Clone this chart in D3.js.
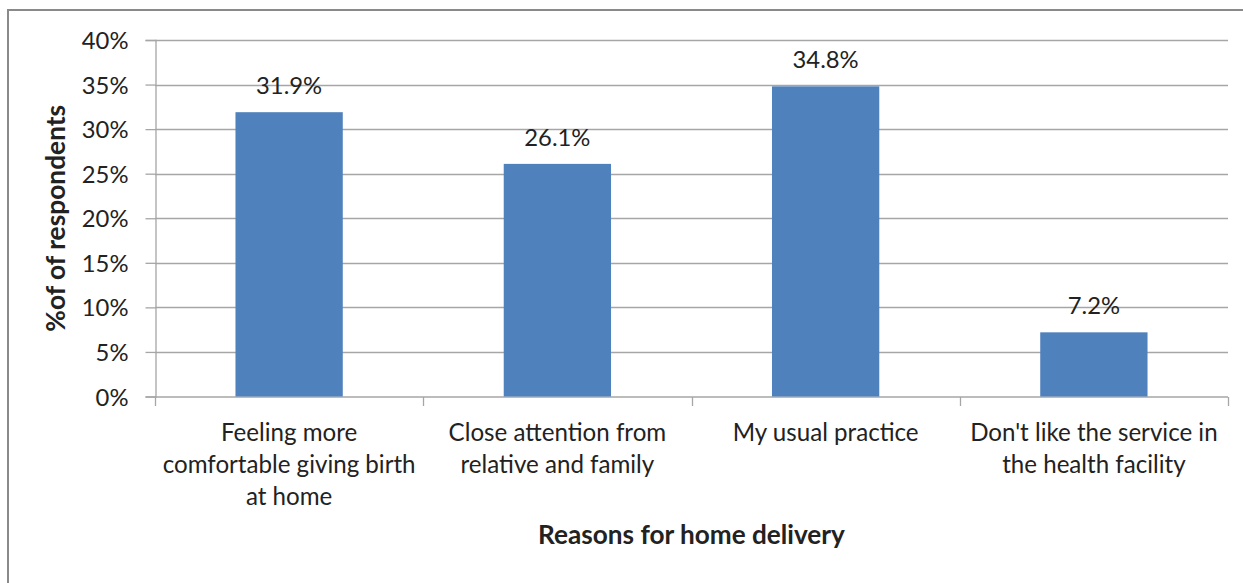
<!DOCTYPE html>
<html><head><meta charset="utf-8">
<script src="https://cdn.jsdelivr.net/npm/d3@7"></script>
<style>
html,body{margin:0;padding:0;background:#fff;}
svg{display:block;}
text{font-family:Lato,"Open Sans",sans-serif;fill:#222;}
</style></head>
<body>
<svg id="chart" width="1243" height="583"></svg>
<script>
const categories = [
  "Feeling more comfortable giving birth at home",
  "Close attention from relative and family",
  "My usual practice",
  "Don't like the service in the health facility"
];
const categoryLines = [
  ["Feeling more", "comfortable giving birth", "at home"],
  ["Close attention from", "relative and family"],
  ["My usual practice"],
  ["Don't like the service in", "the health facility"]
];
const values = [31.9, 26.1, 34.8, 7.2];
const yTicks = [0, 5, 10, 15, 20, 25, 30, 35, 40];
const yTitle = "%of of respondents";
const xTitle = "Reasons for home delivery";

const svg = d3.select("#chart");
const W = 1243, H = 583;
const m = {left:155, right:1228, top:40, bottom:396.5};

// frame
svg.append("rect").attr("x",8).attr("y",10).attr("width",W+10).attr("height",H+10)
  .attr("fill","#fff").attr("stroke","#8a8a8a").attr("stroke-width",2);

const x = d3.scaleBand().domain(categories).range([m.left, m.right]).paddingInner(0.6).paddingOuter(0.3);
const xb = d3.scaleBand().domain(categories).range([m.left, m.right]);
const y = d3.scaleLinear().domain([0, 40]).range([m.bottom, m.top]);

function fit(sel, target){
  const w = sel.node().getComputedTextLength();
  const fs = parseFloat(sel.attr("font-size"));
  sel.attr("font-size", fs * target / w);
}

// gridlines
svg.append("g").selectAll("line").data(yTicks.filter(d=>d>0)).join("line")
  .attr("x1", m.left).attr("x2", m.right)
  .attr("y1", d=>Math.round(y(d))+0.5).attr("y2", d=>Math.round(y(d))+0.5)
  .attr("stroke","#a6a6a6").attr("stroke-width",1.3);

// y axis
const yAxis = d3.axisLeft(y).tickValues(yTicks).tickFormat(d=>d+"%").tickSize(10).tickPadding(17);
const gy = svg.append("g").attr("transform",`translate(${m.left+0.5},0)`).call(yAxis);
gy.select(".domain").attr("stroke","#a6a6a6").attr("stroke-width",1.3);
gy.selectAll(".tick line").attr("stroke","#a6a6a6").attr("stroke-width",1.3);
gy.selectAll(".tick text").attr("font-size",21).attr("font-family","Lato").attr("fill","#222").attr("dy","0.36em");
fit(gy.selectAll(".tick text").filter(d=>d===30), 46.7);
const yfs = gy.selectAll(".tick text").filter(d=>d===30).attr("font-size");
gy.selectAll(".tick text").attr("font-size", yfs);

// x axis
const gx = svg.append("g").attr("transform",`translate(0,${m.bottom+0.5})`);
gx.append("line").attr("x1",m.left).attr("x2",m.right).attr("y1",0).attr("y2",0)
  .attr("stroke","#a6a6a6").attr("stroke-width",1.3);
const bounds = categories.map(c=>xb(c)).concat([m.right]);
gx.selectAll("line.t").data(bounds).join("line").attr("class","t")
  .attr("x1",d=>Math.round(d)+0.5).attr("x2",d=>Math.round(d)+0.5).attr("y1",0).attr("y2",9)
  .attr("stroke","#a6a6a6").attr("stroke-width",1.3);

// bars
svg.append("g").selectAll("rect").data(values).join("rect")
  .attr("x",(d,i)=>x(categories[i]))
  .attr("width",x.bandwidth())
  .attr("y",d=>y(d))
  .attr("height",d=>y(0)-y(d))
  .attr("fill","#4f81bd");

// data labels
const lbl = svg.append("g").selectAll("text").data(values).join("text")
  .attr("x",(d,i)=>x(categories[i])+x.bandwidth()/2)
  .attr("y",d=>y(d)-18)
  .attr("text-anchor","middle")
  .attr("font-size", yfs)
  .text(d=>d.toFixed(1)+"%");

// category labels
const cl = svg.append("g").selectAll("text").data(categoryLines).join("text")
  .attr("text-anchor","middle")
  .attr("font-size",21);
cl.each(function(lines,i){
  const t = d3.select(this);
  lines.forEach((ln,j)=>{
    t.append("tspan").attr("x", xb(categories[i])+xb.bandwidth()/2)
      .attr("y", 440.5 + j*32.3).text(ln);
  });
});
// fit category label size by widest measured line
{
  const probe = svg.append("text").attr("font-size",21).text(categoryLines[0][1]);
  const w = probe.node().getComputedTextLength();
  probe.remove();
  cl.attr("font-size", 21*253/w);
}

// axis titles
const xt = svg.append("text").attr("x",(m.left+m.right)/2).attr("y",544)
  .attr("text-anchor","middle").attr("font-weight","bold").attr("font-size",21).attr("fill","#111").text(xTitle);
fit(xt, 307);
const yt = svg.append("text").attr("transform",`translate(65,${(m.top+m.bottom)/2}) rotate(-90)`)
  .attr("text-anchor","middle").attr("font-weight","bold").attr("font-size",21).attr("fill","#111").text(yTitle);
fit(yt, 227);
</script>
</body></html>
